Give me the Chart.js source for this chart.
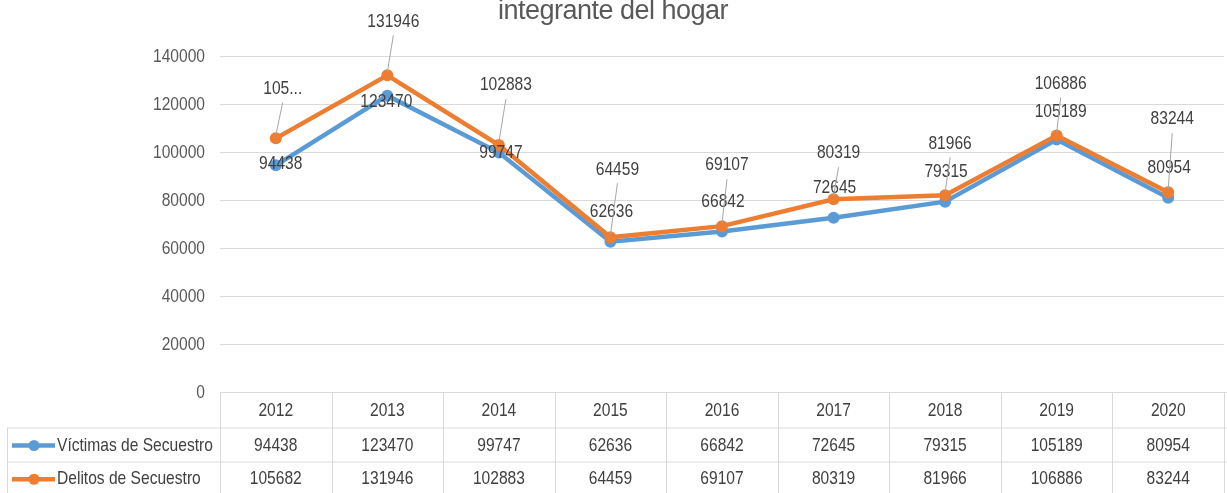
<!DOCTYPE html>
<html>
<head>
<meta charset="utf-8">
<script src="https://cdn.jsdelivr.net/npm/chart.js@4"></script>
<style>
html,body{margin:0;padding:0;background:#fff;overflow:hidden;width:1227px;height:493px;}
#wrap{position:absolute;left:0;top:0;width:1230px;height:493px;}
</style>
</head>
<body>
<div id="wrap"><canvas id="c"></canvas></div>
<script>
// ---- data ----
const categories = ['2012','2013','2014','2015','2016','2017','2018','2019','2020'];
const victimas = [94438,123470,99747,62636,66842,72645,79315,105189,80954];
const delitos = [105682,131946,102883,64459,69107,80319,81966,106886,83244];
const yTicks = [0,20000,40000,60000,80000,100000,120000,140000];
const seriesNames = ['Víctimas de Secuestro','Delitos de Secuestro'];
const titleText = 'integrante del hogar';

// ---- label placement (pixel offsets from each point) ----
const victimasLabelOffsets = [[5,-2],[-1,6],[2,0],[1,-30],[1,-30],[1,-30],[1,-30],[4,-28],[1,-30]];
const delitosLabelOffsets = [[7,-50],[6,-54],[7,-60],[7,-68],[5,-61],[5,-46],[5,-52],[4,-52],[4,-73]];

const FONT = '19px "Liberation Sans", Arial, sans-serif';
const NARROW = 0.82;
const BLUE = '#5B9BD5', ORANGE = '#ED7D31', GRID = '#D9D9D9';

function narrowText(ctx, txt, x, y, align, color) {
  ctx.save();
  ctx.translate(x, y);
  ctx.scale(NARROW, 1);
  ctx.font = FONT;
  ctx.fillStyle = color;
  ctx.textAlign = align;
  ctx.textBaseline = 'middle';
  ctx.fillText(txt, 0, 0);
  ctx.restore();
}

const labelPlugin = {
  id: 'pointLabels',
  afterDatasetsDraw(chart) {
    const ctx = chart.ctx;
    const offsetsByDs = [victimasLabelOffsets, delitosLabelOffsets];
    chart.data.datasets.forEach((ds, di) => {
      const meta = chart.getDatasetMeta(di);
      meta.data.forEach((pt, i) => {
        const off = offsetsByDs[di][i];
        const lx = pt.x + off[0], ly = pt.y + off[1];
        if (off[1] < -35) {
          ctx.save();
          ctx.strokeStyle = '#A6A6A6';
          ctx.lineWidth = 1;
          ctx.beginPath();
          ctx.moveTo(lx, ly + 14);
          ctx.lineTo(pt.x, pt.y - 3);
          ctx.stroke();
          ctx.restore();
        }
        let txt = String(ds.data[i]);
        if (di === 1 && i === 0) txt = txt.slice(0, 3) + '...';
        narrowText(ctx, txt, lx, ly, 'center', '#404040');
      });
    });
  }
};

const yLabelPlugin = {
  id: 'yLabels',
  afterDraw(chart) {
    const ys = chart.scales.y;
    const ca = chart.chartArea;
    yTicks.forEach(v => narrowText(chart.ctx, String(v), ca.left - 15, ys.getPixelForValue(v) + 1, 'right', '#595959'));
  }
};

const tablePlugin = {
  id: 'dataTable',
  afterDraw(chart) {
    const ctx = chart.ctx;
    const xs = chart.scales.x;
    const ca = chart.chartArea;
    const n = categories.length;
    const colW = (ca.right - ca.left) / n;
    const top = ca.bottom;
    const r1 = top + 35.5, r2 = top + 69.5, bottom = top + 103;
    const leftEdge = 7.5;
    ctx.save();
    ctx.strokeStyle = GRID;
    ctx.lineWidth = 1;
    ctx.beginPath();
    ctx.moveTo(ca.left, Math.round(top) + 0.5); ctx.lineTo(chart.width, Math.round(top) + 0.5);
    ctx.moveTo(leftEdge, r1 + 0.5); ctx.lineTo(chart.width, r1 + 0.5);
    ctx.moveTo(leftEdge, r2 + 0.5); ctx.lineTo(chart.width, r2 + 0.5);
    for (let i = 0; i <= n; i++) {
      const x = Math.round(ca.left + i * colW) + 0.5;
      ctx.moveTo(x, top); ctx.lineTo(x, bottom);
    }
    ctx.moveTo(leftEdge, r1); ctx.lineTo(leftEdge, bottom);
    ctx.stroke();
    ctx.restore();

    const yHead = (top + r1) / 2 + 1;
    const yRow = [(r1 + r2) / 2 + 1, (r2 + bottom) / 2 + 1];
    const series = [victimas, delitos];
    categories.forEach((c, i) => {
      const cx = xs.getPixelForValue(i);
      narrowText(ctx, c, cx, yHead, 'center', '#404040');
      series.forEach((s, si) => narrowText(ctx, String(s[i]), cx, yRow[si], 'center', '#404040'));
    });
    const cols = [BLUE, ORANGE];
    seriesNames.forEach((name, si) => {
      const y = yRow[si];
      ctx.save();
      ctx.strokeStyle = cols[si];
      ctx.lineWidth = 4.5;
      ctx.beginPath(); ctx.moveTo(12, y); ctx.lineTo(55, y); ctx.stroke();
      ctx.fillStyle = cols[si];
      ctx.beginPath(); ctx.arc(34, y, 5.5, 0, Math.PI * 2); ctx.fill();
      ctx.restore();
      narrowText(ctx, name, 57, y, 'left', '#404040');
    });
  }
};

const titlePlugin = {
  id: 'topTitle',
  afterDraw(chart) {
    const ctx = chart.ctx;
    ctx.save();
    ctx.font = '27px "Liberation Sans", sans-serif';
    try { ctx.letterSpacing = '-0.5px'; } catch (e) {}
    ctx.fillStyle = '#595959';
    ctx.textAlign = 'center';
    ctx.textBaseline = 'alphabetic';
    ctx.fillText(titleText, 613, 19);
    ctx.restore();
  }
};

new Chart(document.getElementById('c'), {
  type: 'line',
  data: {
    labels: categories,
    datasets: [
      { label: seriesNames[0], data: victimas, borderColor: BLUE, backgroundColor: BLUE,
        borderWidth: 4.5, pointRadius: 6, pointBorderWidth: 0, pointBackgroundColor: BLUE,
        tension: 0, order: 1 },
      { label: seriesNames[1], data: delitos, borderColor: ORANGE, backgroundColor: ORANGE,
        borderWidth: 4.5, pointRadius: 6, pointBorderWidth: 0, pointBackgroundColor: ORANGE,
        tension: 0, order: 0 }
    ]
  },
  options: {
    responsive: true,
    maintainAspectRatio: false,
    animation: false,
    layout: { padding: { top: 56, bottom: 101, left: 0, right: 1 } },
    plugins: { legend: { display: false }, tooltip: { enabled: false }, title: { display: false } },
    scales: {
      x: { display: false, offset: true },
      y: {
        min: 0, max: 140000,
        afterBuildTicks(scale) { scale.ticks = yTicks.map(v => ({ value: v })); },
        afterFit(scale) { scale.width = 220; },
        border: { display: false },
        grid: { color: GRID, lineWidth: 1, drawTicks: false },
        ticks: { display: false }
      }
    }
  },
  plugins: [labelPlugin, yLabelPlugin, tablePlugin, titlePlugin]
});
</script>
</body>
</html>
